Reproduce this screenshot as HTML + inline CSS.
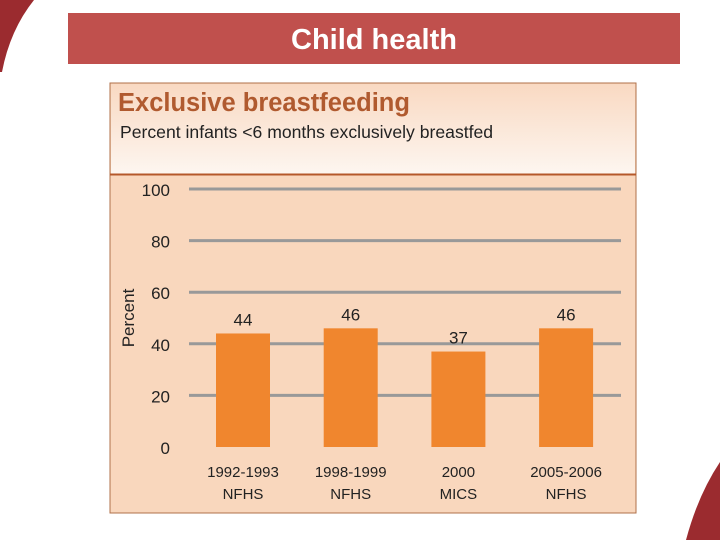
<!DOCTYPE html>
<html><head><meta charset="utf-8"><style>
body{margin:0;width:720px;height:540px;background:#fff;position:relative;overflow:hidden;font-family:"Liberation Sans",sans-serif}
</style></head><body>
<svg width="720" height="540" style="position:absolute;left:0;top:0">
  <path d="M0,0 L34,0 Q10,30 2,72 L0,72 Z" fill="#9b2b2f"/>
  <path d="M720,462 L720,540 L686,540 Q698,495 720,462 Z" fill="#9b2b2f"/>
  <rect x="68" y="13" width="612" height="51" fill="#c0504d"/>
  <text x="374" y="49" text-anchor="middle" font-size="29" font-weight="bold" fill="#fff" font-family="Liberation Sans, sans-serif">Child health</text>
  <defs><linearGradient id="hg" x1="0" y1="0" x2="0" y2="1"><stop offset="0" stop-color="#f9d9c2"/><stop offset="1" stop-color="#fdf6f0"/></linearGradient></defs>
  <rect x="110" y="83" width="526" height="430" fill="#f9d7bd" stroke="#b0704a" stroke-width="1"/>
  <rect x="111" y="84" width="524" height="90" fill="url(#hg)"/>
  <line x1="110" y1="174.5" x2="636" y2="174.5" stroke="#b5582a" stroke-width="2"/>
  <text x="118" y="111" font-size="25.5" font-weight="bold" fill="#b05a2f">Exclusive breastfeeding</text>
  <text x="120" y="138" font-size="17.6" fill="#222">Percent infants &lt;6 months exclusively breastfed</text>
  <text transform="translate(134,318) rotate(-90)" text-anchor="middle" font-size="17" fill="#222">Percent</text>
  <g id="chart"></g>
</svg>
<script>
const categories=["1992-1993","1998-1999","2000","2005-2006"];
const sources=["NFHS","NFHS","MICS","NFHS"];
const values=[44,46,37,46];
const yTicks=[0,20,40,60,80,100];
const NS="http://www.w3.org/2000/svg";
const g=document.getElementById('chart');
function y(v){return 447-v*2.58;}
function xc(i){return 243+i*107.7;}
function mk(t,a,txt){const e=document.createElementNS(NS,t);for(const k in a)e.setAttribute(k,a[k]);if(txt!=null)e.textContent=txt;g.appendChild(e);return e;}
yTicks.forEach(t=>{
  if(t>0){const l=mk('line',{x1:189,x2:621,y1:y(t),y2:y(t),stroke:'#999',"stroke-width":3});
  
  }
  const tx=mk('text',{x:170,y:y(t)+7,"text-anchor":"end","font-size":17,fill:'#222'},t);
  
  
});
values.forEach((v,i)=>{
  const b=mk('rect',{x:xc(i)-27,y:y(v),width:54,height:y(0)-y(v),fill:'#f0862e'});
  
  
  const l=mk('text',{x:xc(i),y:y(v)-8,"text-anchor":"middle","font-size":17,fill:'#222'},v);
  
  
  const c=mk('text',{x:xc(i),y:477,"text-anchor":"middle","font-size":15,fill:'#222'},categories[i]);
  
  
  const s=mk('text',{x:xc(i),y:499,"text-anchor":"middle","font-size":15,fill:'#222'},sources[i]);
  
  
});
</script>
</body></html>
